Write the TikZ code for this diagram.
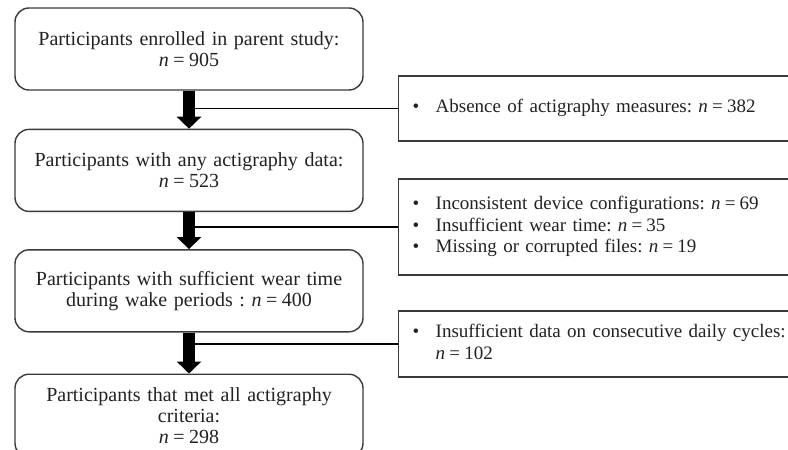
\documentclass[tikz,border=0pt]{standalone}
\usepackage{fontspec}
\setmainfont{Liberation Serif}
\usetikzlibrary{arrows.meta,positioning}
\definecolor{ink}{HTML}{222222}
\definecolor{frame}{HTML}{3A3A3A}
\tikzset{
  stage/.style={draw=frame,line width=1.4pt,fill=white,rounded corners=14pt,align=center,text=ink,text width=330pt,minimum width=348pt,minimum height=82pt,inner sep=6pt,font=\fontsize{20}{21}\selectfont},
  excl/.style={draw=frame,line width=1.4pt,fill=white,align=left,text=ink,text width=390pt,inner xsep=14pt,inner ysep=4pt,anchor=west,font=\fontsize{19}{21.5}\selectfont},
  flow/.style={-{Triangle[length=12pt,width=24pt]},line width=12pt,color=black},
  branch/.style={line width=1.6pt,color=black},
}
\frenchspacing
\newenvironment{items}{\begin{tabular}{@{}p{23pt}@{}l@{}}}{\end{tabular}}
\newcommand{\nval}[1]{\textit{n}\hspace{0.22em}=\hspace{0.22em}#1}

\begin{document}
\begin{tikzpicture}[x=1pt,y=-1pt]
    \useasboundingbox (0,0) rectangle (788,450);
    \node[stage] (b1) at (189,49) {Participants enrolled in parent study:\\ \nval{905}};
    \node[stage,below=38pt of b1] (b2) {Participants with any actigraphy data:\\ \nval{523}};
    \node[stage,below=37pt of b2] (b3) {Participants with sufficient wear time\\during wake periods : \nval{400}};
    \node[stage,below=41pt of b3,minimum height=83pt] (b4) {Participants that met all actigraphy\\criteria:\\ \nval{298}};
    \node[excl,minimum height=65pt] (x1) at (398,108.5) {\begin{items}
      \textbullet & Absence of actigraphy measures: \nval{382}\end{items}};
    \node[excl,minimum height=96pt] (x2) at (398,227) {\begin{items}
      \textbullet & Inconsistent device configurations: \nval{69}\\
      \textbullet & Insufficient wear time: \nval{35}\\
      \textbullet & Missing or corrupted files: \nval{19}\end{items}};
    \node[excl,minimum height=66pt] (x3) at (398,344) {\begin{items}
      \textbullet & Insufficient data on consecutive daily cycles:\\
      & \nval{102}\end{items}};
    \draw[branch] (x1.west) -- (x1.west -| b1.south);
    \draw[branch] (x2.west) -- (x2.west -| b2.south);
    \draw[branch] (x3.west) -- (x3.west -| b3.south);
    \draw[flow] (b1) -- (b2); \draw[flow] (b2) -- (b3); \draw[flow] (b3) -- (b4);
  \end{tikzpicture}
\end{document}
